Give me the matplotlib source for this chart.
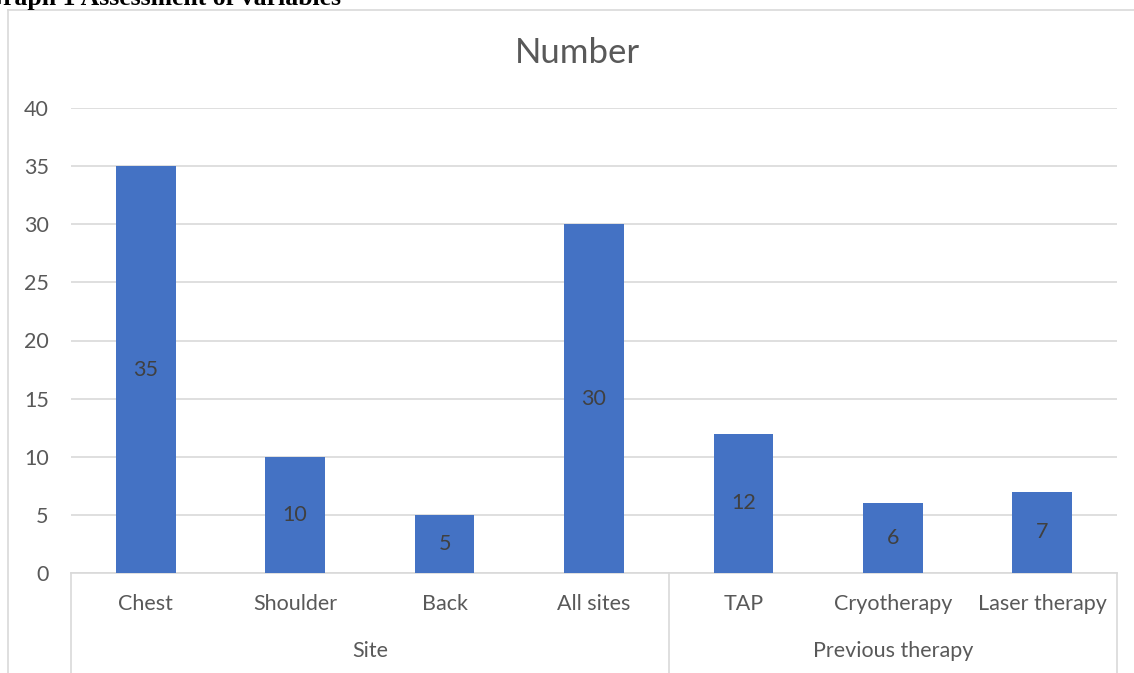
import matplotlib.pyplot as plt
from matplotlib.lines import Line2D
import matplotlib.transforms as mtransforms

categories = ["Chest", "Shoulder", "Back", "All sites", "TAP", "Cryotherapy", "Laser therapy"]
values = [35, 10, 5, 30, 12, 6, 7]
groups = ["Site", "Previous therapy"]
group_sizes = [4, 3]

plt.rcParams['font.family'] = ['Lato', 'DejaVu Sans']
text_grey = '#595959'
grid_grey = '#D9D9D9'
bar_blue = '#4472C4'

W, H = 1134, 673
fig = plt.figure(figsize=(W / 100, H / 100), dpi=100)
ax = fig.add_axes([71 / W, 1 - 573 / H, (1117 - 71) / W, (573 - 108) / H])

x = list(range(len(categories)))
bars = ax.bar(x, values, width=0.4, color=bar_blue, zorder=3)
for b, v in zip(bars, values):
    ax.text(b.get_x() + b.get_width() / 2, v / 2, str(v), ha='center', va='center',
            fontsize=15.5, color='#404040', zorder=4)

ax.set_xlim(-0.5, len(categories) - 0.5)
ax.set_ylim(0, 40)
ax.set_yticks(range(0, 41, 5))
ax.yaxis.grid(True, color=grid_grey, linewidth=1.2, zorder=0)
ax.tick_params(axis='y', length=0, pad=16, labelsize=15.5, labelcolor=text_grey)
ax.set_xticks(x)
ax.set_xticklabels(categories)
ax.tick_params(axis='x', length=0, pad=15, labelsize=15.5, labelcolor=text_grey)
for s in ['top', 'right', 'left']:
    ax.spines[s].set_visible(False)
ax.spines['bottom'].set_color(grid_grey)
ax.spines['bottom'].set_linewidth(1.2)

# group dividers and labels below the category axis
trans = mtransforms.blended_transform_factory(ax.transData, ax.transAxes)
edges = [-0.5]
for n in group_sizes:
    edges.append(edges[-1] + n)
for e in edges:
    ax.add_line(Line2D([e, e], [0, -0.22], transform=trans, color=grid_grey,
                       linewidth=1.2, clip_on=False))
for g, a, b in zip(groups, edges[:-1], edges[1:]):
    ax.text((a + b) / 2, -0.168, g, transform=trans, ha='center', va='center',
            fontsize=15.5, color=text_grey)

fig.text(577 / W, 1 - 53 / H, "Number", ha='center', va='center', fontsize=25, color=text_grey)

# chart border (cut by the page)
fig.add_artist(Line2D([8 / W, 8 / W], [0, 1 - 10 / H], color=grid_grey, linewidth=1.2))
fig.add_artist(Line2D([8 / W, 1], [1 - 10 / H, 1 - 10 / H], color=grid_grey, linewidth=1.2))

fig.text(341 / W, 1 - 5 / H, "Graph 1 Assessment of variables", ha='right', va='baseline',
         fontsize=18.5, fontweight='bold', family='Liberation Serif', color='black')

fig.savefig('out.png', dpi=100)
